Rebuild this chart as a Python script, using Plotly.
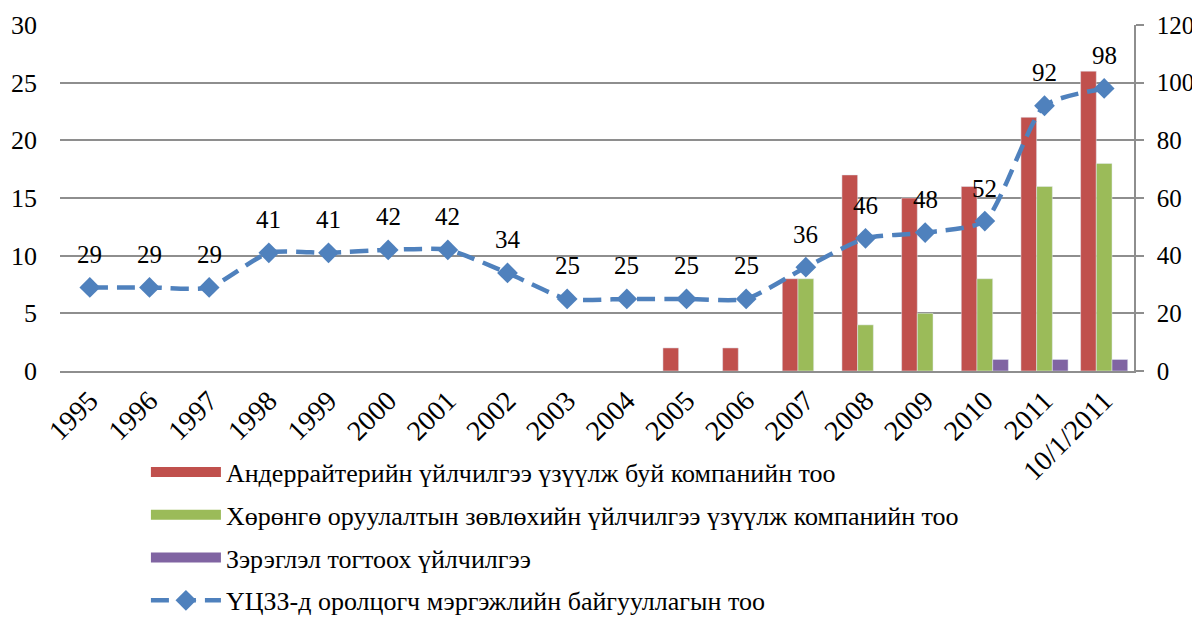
import plotly.graph_objects as go

categories = ["1995", "1996", "1997", "1998", "1999", "2000", "2001", "2002", "2003",
              "2004", "2005", "2006", "2007", "2008", "2009", "2010", "2011", "10/1/2011"]
underwriting = [None, None, None, None, None, None, None, None, None,
                None, 2, 2, 8, 17, 15, 16, 22, 26]
investment_advice = [None, None, None, None, None, None, None, None, None,
                     None, None, None, 8, 4, 5, 8, 16, 18]
rating = [None, None, None, None, None, None, None, None, None,
          None, None, None, None, None, None, 1, 1, 1]
participants = [29, 29, 29, 41, 41, 42, 42, 34, 25, 25, 25, 25, 36, 46, 48, 52, 92, 98]

names = [
    "Андеррайтерийн үйлчилгээ үзүүлж буй компанийн тоо",
    "Хөрөнгө оруулалтын зөвлөхийн үйлчилгээ үзүүлж компанийн тоо",
    "Зэрэглэл тогтоох үйлчилгээ",
    "ҮЦЗЗ-д оролцогч мэргэжлийн байгууллагын тоо",
]
bar_colors = ["#C0504D", "#9BBB59", "#8064A2"]
line_color = "#4F81BD"
FONT = "Liberation Serif, Tinos, Times New Roman, serif"

fig = go.Figure()
for vals, name, col in zip([underwriting, investment_advice, rating], names[:3], bar_colors):
    fig.add_trace(go.Bar(x=categories, y=vals, name=name, marker_color=col,
                         showlegend=False, yaxis="y"))
# legend-only entries for wide rectangular swatches (on a hidden axis pair)
for i, (name, col) in enumerate(zip(names[:3], bar_colors)):
    fig.add_trace(go.Scatter(x=[0], y=[None], mode="lines", name=name,
                             xaxis="x2", yaxis="y3",
                             line=dict(color=col, width=14), legendgroup=f"g{i}",
                             showlegend=True))

fig.add_trace(go.Scatter(
    x=categories, y=participants, name=names[3], yaxis="y2",
    mode="lines+markers", legendgroup="g3",
    line=dict(color=line_color, width=4.5, dash="18px,9px", shape="spline", smoothing=0.6),
    marker=dict(symbol="diamond", size=16, color=line_color),
))

for i, v in enumerate(participants):
    fig.add_annotation(x=i, y=v, yref="y2", xref="x", text=str(v), showarrow=False,
                       yshift=33, font=dict(family=FONT, size=25, color="black"))

grid = "#8E8E8E"
fig.update_layout(
    width=1200, height=640,
    margin=dict(l=52, r=74, t=17, b=277),
    paper_bgcolor="white", plot_bgcolor="white",
    barmode="group", bargap=0.21, bargroupgap=0,
    font=dict(family=FONT, size=25, color="black"),
    xaxis=dict(type="category", categoryorder="array", categoryarray=categories,
               range=[-0.5, len(categories) - 0.5], automargin=False,
               tickangle=-45, showline=True, linecolor=grid, linewidth=2,
               showgrid=False, ticks="", tickfont=dict(size=28)),
    xaxis2=dict(visible=False, overlaying="x", range=[0, 1]),
    yaxis3=dict(visible=False, overlaying="y", range=[0, 1]),
    yaxis=dict(range=[0, 30], dtick=5, showgrid=True, gridcolor=grid, gridwidth=1.5,
               zeroline=False, showline=False, ticks="", automargin=False,
               ticklabelstandoff=22, tickfont=dict(size=26)),
    yaxis2=dict(range=[0, 120], dtick=20, overlaying="y", side="right", showgrid=False,
                zeroline=False, showline=True, linecolor=grid, linewidth=1.5,
                ticks="outside", ticklen=8, tickcolor=grid, tickwidth=1.5, automargin=False,
                ticklabelstandoff=8, tickfont=dict(size=25)),
    legend=dict(x=0.080, y=-0.224, xanchor="left", yanchor="top", itemwidth=70,
                tracegroupgap=6, font=dict(family=FONT, size=26), traceorder="grouped"),
    showlegend=True,
)

fig.write_html("out.html")
